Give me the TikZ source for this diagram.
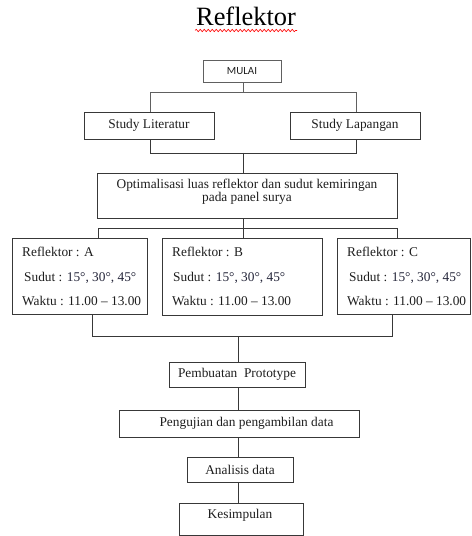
\documentclass[tikz,border=0pt]{standalone}
\usepackage{fontspec}
\setmainfont{Liberation Serif}
\newfontfamily\calib{Carlito}
\usetikzlibrary{decorations.pathmorphing}
\definecolor{ln}{HTML}{383838}
\definecolor{lnl}{HTML}{606060}
\definecolor{tx}{HTML}{1E1E1E}
\definecolor{dg}{HTML}{25263A}
\begin{document}
\begin{tikzpicture}[x=1bp,y=-1bp,
  box/.style={draw=ln, line width=0.8bp, inner sep=0pt, rectangle},
  txt/.style={text=tx, inner sep=0pt, font=\fontsize{13.4}{14}\selectfont},
  conn/.style={draw=ln, line width=0.8bp},
  connl/.style={draw=lnl, line width=0.8bp},
]
\useasboundingbox (0,0) rectangle (472,536);
\fill[white] (0,0) rectangle (472,536);

% title
\node[text=black, font=\fontsize{26.5}{28}\selectfont, anchor=base, inner sep=0pt] (title) at (246,26) {Reflektor};
\draw[red, line width=0.6bp, decorate, decoration={snake, amplitude=1.2bp, segment length=4bp}] (195,30.5) -- (297,30.5);

% boxes
\node[box, draw=lnl, minimum width=78bp, minimum height=22bp, text=tx, font=\calib\fontsize{11}{12}\selectfont] (mulai) at (242,71) {MULAI};
\node[box, txt, minimum width=130bp, minimum height=27bp] (sl) at (149,125.5) {Study Literatur};
\node[box, txt, minimum width=130bp, minimum height=27bp] (sp) at (355,125.5) {Study Lapangan};

\node[box, minimum width=300bp, minimum height=45bp] (opt) at (247,195.5) {};
\node[txt, align=center, font=\fontsize{13.4}{11}\selectfont] (optt) at (247,191.5) {Optimalisasi luas reflektor dan sudut kemiringan\\pada panel surya};

\node[box, minimum width=135bp, minimum height=76bp] (ra) at (79.5,276) {};
\node[box, minimum width=160bp, minimum height=77bp] (rb) at (242,276.5) {};
\node[box, minimum width=133bp, minimum height=76bp] (rc) at (403.5,276) {};

\node[txt, anchor=base west] (ra1) at (22,256) {Reflektor : A};
\node[txt, anchor=base west] (ra2) at (24,281) {Sudut : \textcolor{dg}{15°, 30°, 45°}};
\node[txt, anchor=base west] (ra3) at (22,305) {Waktu : 11.00 – 13.00};

\node[txt, anchor=base west] (rb1) at (172,256) {Reflektor : B};
\node[txt, anchor=base west] (rb2) at (173,281) {Sudut : \textcolor{dg}{15°, 30°, 45°}};
\node[txt, anchor=base west] (rb3) at (172,305) {Waktu : 11.00 – 13.00};

\node[txt, anchor=base west] (rc1) at (347,256) {Reflektor : C};
\node[txt, anchor=base west] (rc2) at (349,281) {Sudut : \textcolor{dg}{15°, 30°, 45°}};
\node[txt, anchor=base west] (rc3) at (347,305) {Waktu : 11.00 – 13.00};

\node[box, txt, minimum width=136bp, minimum height=25bp] (pb) at (237,374.5) {Pembuatan\ \ Prototype};
\node[box, minimum width=240bp, minimum height=27bp] (pg) at (239,423.5) {};
\node[txt] (pgt) at (246.5,423) {Pengujian dan pengambilan data};
\node[box, txt, minimum width=106bp, minimum height=25bp] (an) at (240,469.5) {Analisis data};
\node[box, minimum width=124bp, minimum height=32bp] (ks) at (241,519) {};
\node[txt, anchor=base] (kst) at (240,518) {Kesimpulan};

% connectors
\coordinate (j1) at (243,92);
\coordinate (j1l) at (150,92);
\coordinate (j1r) at (356,92);
\draw[connl] (mulai.south -| j1) -- (j1);
\draw[connl] (sl.north -| j1l) -- (j1l) -- (j1r) -- (sp.north -| j1r);

\coordinate (j2) at (243,153);
\coordinate (j2l) at (150,153);
\coordinate (j2r) at (356,153);
\draw[conn] (sl.south -| j2l) -- (j2l) -- (j2r) -- (sp.south -| j2r);
\draw[conn] (j2) -- (opt.north -| j2);

\coordinate (j3) at (243.5,228);
\coordinate (j3l) at (98,228);
\coordinate (j3r) at (397,228);
\draw[conn] (opt.south -| j3) -- (rb.north -| j3);
\draw[conn] (ra.north -| j3l) -- (j3l) -- (j3r) -- (rc.north -| j3r);

\coordinate (j4) at (238,336);
\coordinate (j4l) at (92,336);
\coordinate (j4r) at (392,336);
\draw[conn] (ra.south -| j4l) -- (j4l) -- (j4r) -- (rc.south -| j4r);
\draw[conn] (j4) -- (pb.north -| j4);
\draw[conn] (pb.south -| j4) -- (pg.north -| j4);
\draw[conn] (pg.south -| j4) -- (an.north -| j4);
\draw[conn] (an.south -| j4) -- (ks.north -| j4);
\end{tikzpicture}
\end{document}
